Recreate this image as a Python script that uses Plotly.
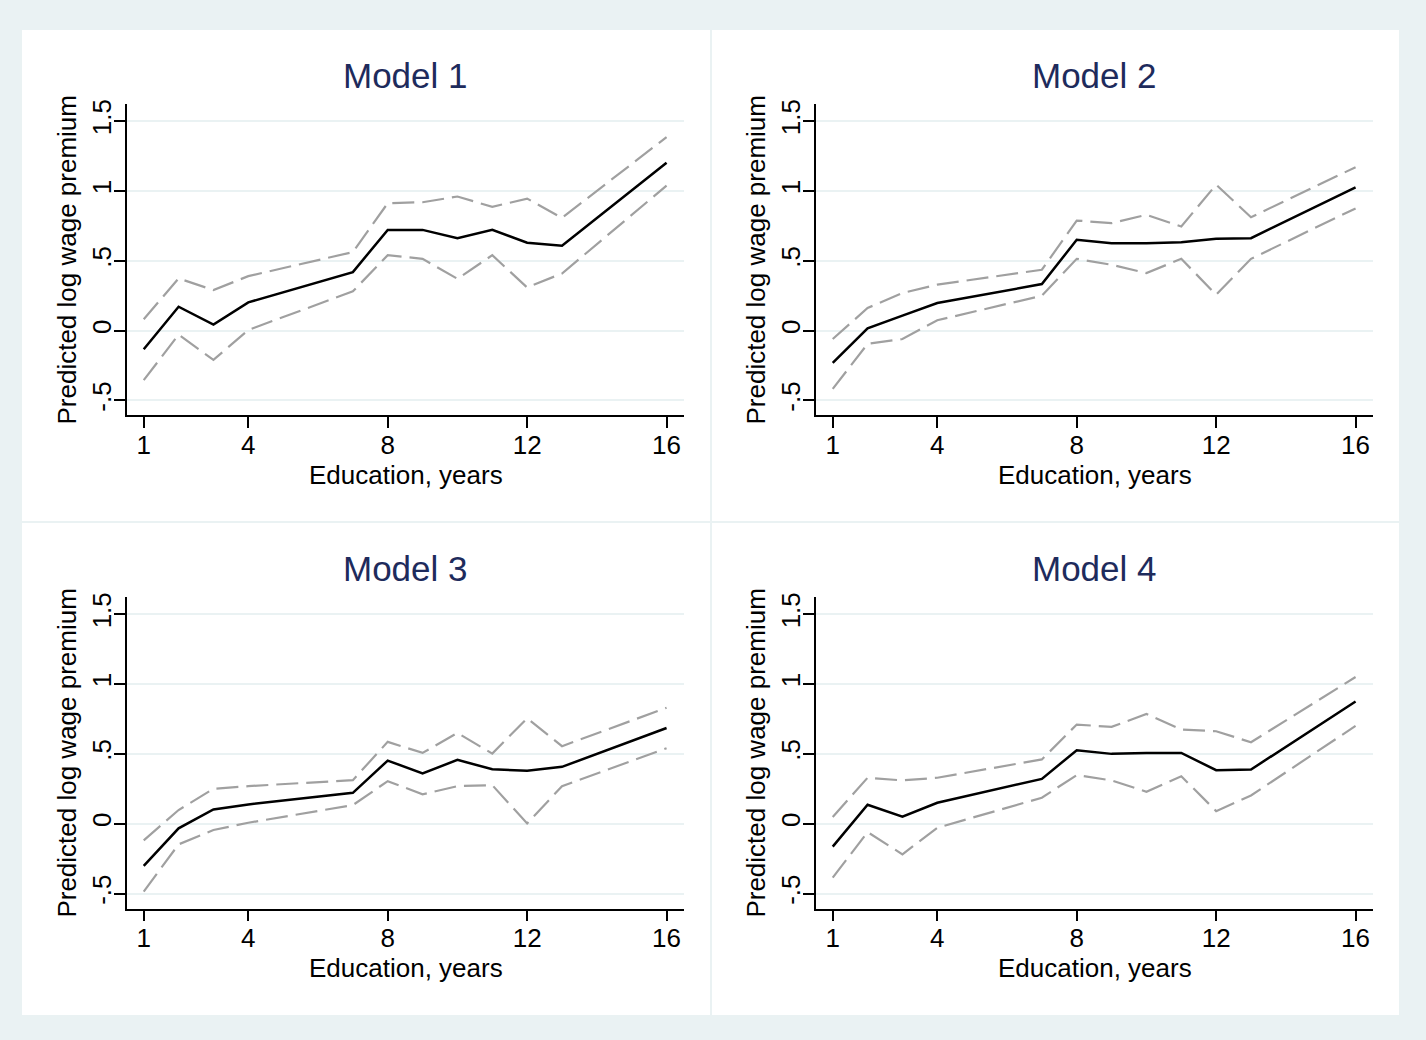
import plotly.graph_objects as go

# ---------------- data ----------------
educ = [1, 2, 3, 4, 7, 8, 9, 10, 11, 12, 13, 16]

m1_est = [-0.133, 0.171, 0.043, 0.202, 0.419, 0.721, 0.721, 0.662, 0.721, 0.629, 0.607, 1.202]
m1_hi = [0.081, 0.374, 0.290, 0.390, 0.562, 0.912, 0.919, 0.960, 0.886, 0.945, 0.807, 1.386]
m1_lo = [-0.355, -0.029, -0.210, 0.005, 0.281, 0.540, 0.514, 0.371, 0.540, 0.309, 0.409, 1.038]

m2_est = [-0.231, 0.017, 0.107, 0.198, 0.333, 0.650, 0.626, 0.626, 0.633, 0.657, 0.662, 1.025]
m2_hi = [-0.060, 0.162, 0.269, 0.329, 0.436, 0.788, 0.769, 0.829, 0.745, 1.045, 0.812, 1.170]
m2_lo = [-0.417, -0.095, -0.060, 0.074, 0.250, 0.514, 0.471, 0.412, 0.514, 0.257, 0.514, 0.875]

m3_est = [-0.302, -0.033, 0.102, 0.138, 0.221, 0.452, 0.360, 0.457, 0.390, 0.379, 0.407, 0.685]
m3_hi = [-0.119, 0.098, 0.250, 0.269, 0.312, 0.586, 0.507, 0.650, 0.502, 0.755, 0.555, 0.830]
m3_lo = [-0.486, -0.148, -0.045, 0.007, 0.133, 0.305, 0.210, 0.269, 0.276, 0.002, 0.269, 0.540]

m4_est = [-0.164, 0.136, 0.050, 0.150, 0.321, 0.526, 0.500, 0.507, 0.507, 0.383, 0.388, 0.875]
m4_hi = [0.048, 0.329, 0.310, 0.329, 0.460, 0.710, 0.693, 0.786, 0.674, 0.662, 0.583, 1.050]
m4_lo = [-0.386, -0.060, -0.219, -0.029, 0.186, 0.348, 0.310, 0.229, 0.340, 0.090, 0.202, 0.700]

model_titles = ["Model 1", "Model 2", "Model 3", "Model 4"]
x_tickvals = [1, 4, 8, 12, 16]
x_ticktext = ["1", "4", "8", "12", "16"]
y_tickvals = [-0.5, 0, 0.5, 1, 1.5]
y_ticktext = ["-.5", "0", ".5", "1", "1.5"]
x_title = "Education, years"
y_title = "Predicted log wage premium"

models = [
    (m1_est, m1_hi, m1_lo),
    (m2_est, m2_hi, m2_lo),
    (m3_est, m3_hi, m3_lo),
    (m4_est, m4_hi, m4_lo),
]

# ---------------- layout geometry (pixels) ----------------
W, H = 1426, 1040
BG = "#EAF2F3"
TITLE_COLOR = "#1E2B5C"
GRAY = "#A0A0A0"
FONT = "Liberation Sans, Arial, Helvetica, sans-serif"

def px(x):
    return x / W

def py(y):
    return 1 - y / H

# plot-area boxes: (left, right, top, bottom)
boxes = [
    (127, 684, 100, 413),
    (816, 1373, 100, 413),
    (127, 684, 595, 908),
    (816, 1373, 595, 908),
]
# white panel backgrounds
panels = [
    (22, 710, 26, 519),
    (712, 1399, 26, 519),
    (22, 710, 521, 1015),
    (712, 1399, 521, 1015),
]

fig = go.Figure()
layout = dict(
    width=W, height=H,
    margin=dict(l=0, r=0, t=0, b=0),
    paper_bgcolor=BG,
    plot_bgcolor="white",
    showlegend=False,
    shapes=[],
    annotations=[],
)

for i, ((est, hi, lo), (l, r, t, b)) in enumerate(zip(models, boxes)):
    n = i + 1
    xa = "x" if n == 1 else f"x{n}"
    ya = "y" if n == 1 else f"y{n}"
    for series, color, width, dash in ((hi, GRAY, 2.2, "22px,8px"),
                                       (lo, GRAY, 2.2, "22px,8px"),
                                       (est, "black", 2.5, "solid")):
        fig.add_trace(go.Scatter(
            x=educ, y=series, mode="lines", xaxis=xa, yaxis=ya,
            line=dict(color=color, width=width, dash=dash),
            hoverinfo="skip",
        ))
    layout[f"xaxis{'' if n == 1 else n}"] = dict(
        domain=[px(l), px(r)], anchor=ya, range=[0.52, 16.5],
        tickvals=x_tickvals, ticktext=x_ticktext,
        showline=True, linecolor="black", linewidth=1.5,
        ticks="outside", ticklen=11, tickwidth=1.5, tickcolor="black",
        ticklabelstandoff=-5,
        showgrid=False, zeroline=False,
        tickfont=dict(family=FONT, size=26, color="black"),
        fixedrange=True,
    )
    layout[f"yaxis{'' if n == 1 else n}"] = dict(
        domain=[py(b), py(t)], anchor=xa, range=[-0.607, 1.625],
        tickvals=y_tickvals, ticktext=y_ticktext, tickangle=-90,
        showline=True, linecolor="black", linewidth=1.5,
        ticks="outside", ticklen=11, tickwidth=1.5, tickcolor="black",
        ticklabelstandoff=-7,
        showgrid=True, gridcolor=BG, gridwidth=2, zeroline=False,
        tickfont=dict(family=FONT, size=26, color="black"),
        fixedrange=True,
    )
    cx = (l + r) / 2
    layout["annotations"].append(dict(
        text=model_titles[i], xref="paper", yref="paper",
        x=px(cx), y=py(t - 28), xanchor="center", yanchor="middle",
        showarrow=False, font=dict(family=FONT, size=35, color=TITLE_COLOR),
    ))
    layout["annotations"].append(dict(
        text=x_title, xref="paper", yref="paper",
        x=px(cx), y=py(b + 60), xanchor="center", yanchor="middle",
        showarrow=False, font=dict(family=FONT, size=26, color="black"),
    ))
    layout["annotations"].append(dict(
        text=y_title, xref="paper", yref="paper",
        x=px(l - 60), y=py((t + b) / 2), xanchor="center", yanchor="middle",
        textangle=-90,
        showarrow=False, font=dict(family=FONT, size=26, color="black"),
    ))

for (l, r, t, b) in panels:
    layout["shapes"].append(dict(
        type="rect", xref="paper", yref="paper",
        x0=px(l), x1=px(r), y0=py(b), y1=py(t),
        fillcolor="white", line=dict(width=0), layer="below",
    ))

fig.update_layout(**layout)
fig.write_html(
    "out.html",
    config={"displayModeBar": False},
    post_script=(
        "document.body.style.margin='0';"
        "document.body.style.padding='0';"
        "document.body.style.overflow='hidden';"
        "document.body.style.background='" + BG + "';"
    ),
)
